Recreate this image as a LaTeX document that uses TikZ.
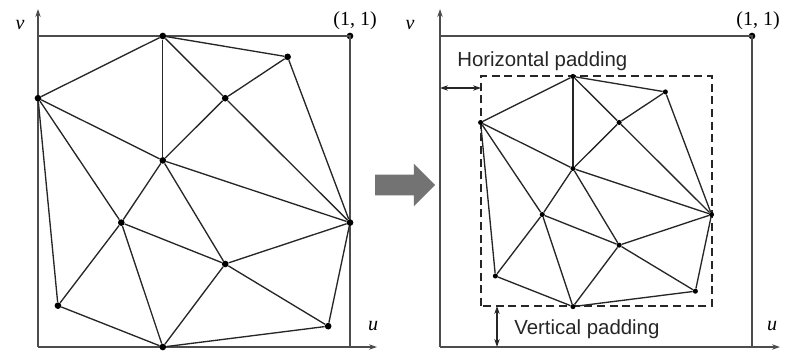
\documentclass[tikz,border=0pt]{standalone}
\usepackage{fontspec}
\setmainfont{Liberation Serif}
\newfontfamily\padfont{Liberation Sans}
\usetikzlibrary{positioning,arrows.meta,shapes.arrows}

\begin{document}
\begin{tikzpicture}[x=0.75pt, y=0.75pt,
    frame/.style={draw=black!70, line width=1pt},
    axis/.style={draw=black!70, line width=1pt, -{Stealth[length=6pt,width=4pt]}},
    mesh/.style={draw=black!85, line width=1pt},
    dot/.style={circle, fill=black, inner sep=0pt, minimum size=5pt},
    sdot/.style={circle, fill=black, inner sep=0pt, minimum size=3.8pt},
    lbl/.style={font=\fontsize{15}{18}\selectfont\itshape, inner sep=0pt},
    pad/.style={font=\padfont\fontsize{15.3}{18}\selectfont, inner sep=0pt, text=black!85},
    padarr/.style={draw=black!85, line width=0.9pt, {Stealth[length=6pt,width=4pt]}-{Stealth[length=6pt,width=4pt]}},
    box/.style={draw=black!85, line width=0.9pt, dash pattern=on 6pt off 3.5pt}
]
\useasboundingbox (0,0) rectangle (788,351);

% ---- left: unit square and axes ----
\coordinate (lO) at (38,4);
\coordinate (lV) at (38,342);
\coordinate (lU) at (377,4);
\coordinate (lTL) at (38,315);
\coordinate (lBR) at (350,4);
\node[dot] (lQ) at (350,315) {};
\draw[frame] (lTL) -- (lQ.center) -- (lBR);
\draw[axis] (lO) -- (lV);
\draw[axis] (lO) -- (lU);
\node[lbl] (lv) at (20,326) {v};
\node[lbl] (lu) at (373,25) {u};
\node[lbl, font=\fontsize{15}{18}\selectfont] (lq) at (355,330) {(1, 1)};

% ---- left: mesh ----
\begin{scope}[shift={(38,4)}, x=234pt, y=233.25pt]
\foreach \n/\u/\v in {A/0.4/1, B/0.8/0.933, C/0/0.8, D/0.6/0.8, E/0.4/0.6, F/1/0.4,
    G/0.267/0.4, H/0.6/0.267, I/0.064/0.133, J/0.93/0.067, K/0.4/0}
  \node[dot] (l\n) at (\u,\v) {};
\end{scope}

% ---- gray arrow ----
\node[single arrow, fill=black!55, inner xsep=0pt, inner ysep=7.5pt,
  minimum height=45pt, single arrow head extend=8.25pt] (go) at (400,166) {};

% ---- right: unit square and axes ----
\coordinate (rO) at (440,4);
\coordinate (rV) at (440,342);
\coordinate (rU) at (780,4);
\coordinate (rTL) at (440,315);
\coordinate (rBR) at (752,4);
\node[dot] (rQ) at (752,315) {};
\draw[frame] (rTL) -- (rQ.center) -- (rBR);
\draw[axis] (rO) -- (rV);
\draw[axis] (rO) -- (rU);
\node[lbl] (rv) at (410,326) {v};
\node[lbl] (ru) at (772,25) {u};
\node[lbl, font=\fontsize{15}{18}\selectfont] (rq) at (758,330) {(1, 1)};

% ---- right: padded box and mesh ----
\coordinate (bxA) at (481,45);
\coordinate (bxB) at (712,275);
\draw[box] (bxA) rectangle (bxB);
\begin{scope}[shift={(480.6,44.4)}, x=173.2pt, y=172.6pt]
\foreach \n/\u/\v in {A/0.4/1, B/0.8/0.933, C/0/0.8, D/0.6/0.8, E/0.4/0.6, F/1/0.4,
    G/0.267/0.4, H/0.6/0.267, I/0.064/0.133, J/0.93/0.067, K/0.4/0}
  \node[sdot] (r\n) at (\u,\v) {};
\end{scope}

% edges, same for both meshes
\foreach \p in {l,r}
  \foreach \a/\b in {A/C, A/E, A/D, A/B, B/D, B/F, D/E, D/F, C/E, C/G, C/I, E/F,
      E/G, E/H, G/H, G/I, G/K, H/F, H/K, H/J, F/J, K/I, K/J}
    \draw[mesh] (\p\a) -- (\p\b);

% paddings
\coordinate (hpL) at (440,263);
\coordinate (hpR) at (481,263);
\draw[padarr] (hpL) -- (hpR);
\node[pad, anchor=base west] (hp) at (457,285) {Horizontal padding};
\coordinate (vpT) at (497,45);
\coordinate (vpB) at (497,4);
\draw[padarr] (vpT) -- (vpB);
\node[pad, anchor=base west] (vp) at (514,17) {Vertical padding};
\end{tikzpicture}
\end{document}
